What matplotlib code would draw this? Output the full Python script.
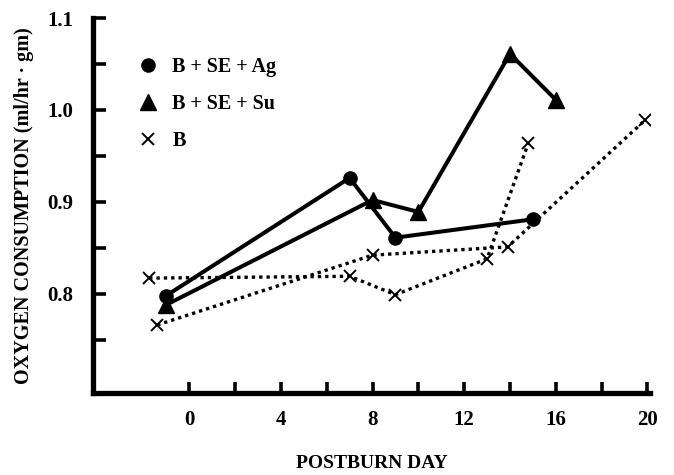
import matplotlib
matplotlib.use("Agg")
import matplotlib.pyplot as plt
from matplotlib.lines import Line2D

# Datos
dias_ag = [-1, 7, 9, 15]
o2_ag = [0.798, 0.926, 0.861, 0.881]

dias_su = [-1, 8, 10, 14, 16]
o2_su = [0.788, 0.902, 0.889, 1.061, 1.011]

dias_b1 = [-1.75, 7, 9, 13, 14.8]
o2_b1 = [0.817, 0.819, 0.799, 0.838, 0.964]

dias_b2 = [-1.4, 8, 13.9, 19.9]
o2_b2 = [0.766, 0.842, 0.851, 0.989]

etiquetas = ["B + SE + Ag", "B + SE + Su", "B"]
x_ticks = [0, 4, 8, 12, 16, 20]
y_ticks = [0.8, 0.9, 1.0, 1.1]

plt.rcParams['font.family'] = ['Liberation Serif', 'DejaVu Serif']
plt.rcParams['font.weight'] = 'bold'

fig = plt.figure(figsize=(6.74, 4.75), dpi=100)
ax = fig.add_axes([0.138, 0.1726, 0.826, 0.7895])

# Series con marcadores
ax.plot(dias_ag, o2_ag, color='black', lw=2.9, marker='o', ms=9.5)
ax.plot(dias_su, o2_su, color='black', lw=2.9, marker='^', ms=11)
ax.plot(dias_b1, o2_b1, color='black', lw=2.4, ls=(0, (1, 1.2)),
        marker='x', ms=8, mew=1.4)
ax.plot(dias_b2, o2_b2, color='black', lw=2.4, ls=(0, (1, 1.2)),
        marker='x', ms=8, mew=1.4)

ax.set_xlim(-4.2, 20.1)
ax.set_ylim(0.692, 1.1)

# Ejes estilo figura antigua
for lado in ['top', 'right']:
    ax.spines[lado].set_visible(False)
ax.spines['left'].set_linewidth(3.8)
ax.spines['bottom'].set_linewidth(3.8)

ax.set_xticks(x_ticks)
ax.set_xticks([2, 6, 10, 14, 18], minor=True)
ax.set_yticks(y_ticks)
ax.set_yticklabels(["0.8", "0.9", "1.0", "1.1"])
ax.set_yticks([0.75, 0.85, 0.95, 1.05], minor=True)
ax.tick_params(axis='both', which='both', direction='in', width=2.6,
               labelsize=15)
ax.tick_params(axis='x', which='both', length=8, pad=12)
ax.tick_params(axis='y', which='both', length=9, pad=14)

ax.set_xlabel("POSTBURN DAY", fontsize=14, fontweight='bold')
ax.xaxis.set_label_coords(0.5, -0.165)
ax.set_ylabel("OXYGEN CONSUMPTION (ml/hr · gm)", fontsize=14.5,
              fontweight='bold', labelpad=10)

# Leyenda solo con marcadores
manijas = [
    Line2D([], [], color='black', marker='o', ls='none', ms=9.5),
    Line2D([], [], color='black', marker='^', ls='none', ms=11),
    Line2D([], [], color='black', marker='x', ls='none', ms=8, mew=1.4),
]
ax.legend(manijas, etiquetas, loc='upper left', bbox_to_anchor=(0.045, 0.945),
          frameon=False, labelspacing=0.85, handletextpad=0.6,
          handlelength=1.2, prop={'weight': 'bold', 'size': 14.5})

fig.savefig("out.png", dpi=100)
